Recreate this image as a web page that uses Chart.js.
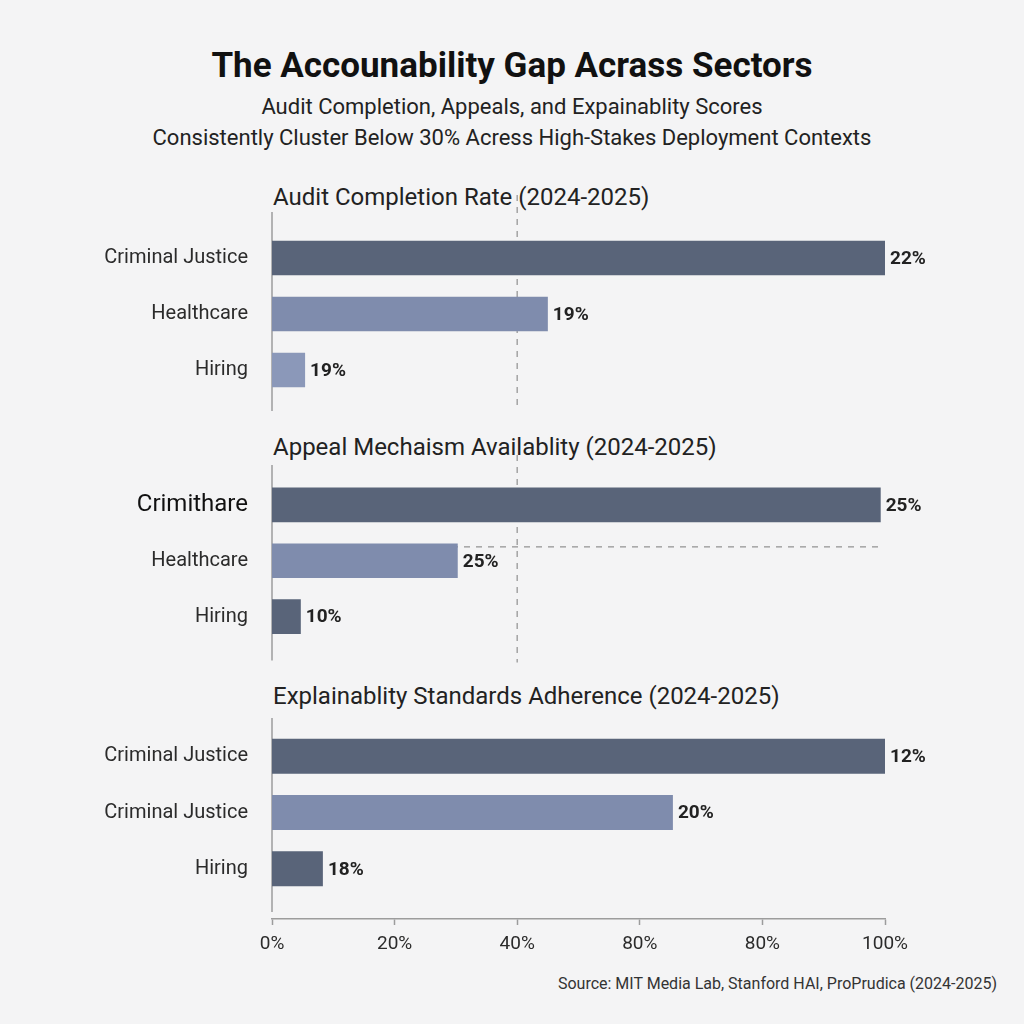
<!DOCTYPE html>
<html>
<head>
<meta charset="utf-8">
<script src="https://cdn.jsdelivr.net/npm/chart.js@4.4.0/dist/chart.umd.min.js"></script>
<style>
  html, body { margin: 0; padding: 0; }
  body { width: 1024px; height: 1024px; background: #f4f4f5; position: relative; overflow: hidden;
         font-family: Roboto, "Open Sans", sans-serif; color: #1f1f1f; }
  .abs { position: absolute; }
  #title { top: 45px; left: 0; width: 1024px; text-align: center; font-size: 35px; font-weight: 700; color: #111; }
  .sub { left: 0; width: 1024px; text-align: center; font-size: 22px; color: #222; }
  .ptitle { left: 273px; font-size: 24px; color: #222; white-space: nowrap; }
  #source { right: 27px; top: 974px; font-size: 16px; color: #333; }
  canvas { position: absolute; left: 0; }
</style>
</head>
<body>
<div id="title" class="abs">The Accounability Gap Acrass Sectors</div>
<div class="abs sub" style="top:94px">Audit Completion, Appeals, and Expainablity Scores</div>
<div class="abs sub" style="top:125px">Consistently Cluster Below 30% Acress High-Stakes Deployment Contexts</div>
<div class="abs ptitle" style="top:183px">Audit Completion Rate (2024-2025)</div>
<div class="abs ptitle" style="top:433px">Appeal Mechaism Availablity (2024-2025)</div>
<div class="abs ptitle" style="top:682px">Explainablity Standards Adherence (2024-2025)</div>
<div id="source" class="abs">Source: MIT Media Lab, Stanford HAI, ProPrudica (2024-2025)</div>

<canvas id="c1" width="1024" height="236" style="top:190px"></canvas>
<canvas id="c2" width="1024" height="235" style="top:440px"></canvas>
<canvas id="c3" width="1024" height="225" style="top:700px"></canvas>
<canvas id="cx" width="1024" height="70" style="top:884px"></canvas>

<script>
// panel 1: Audit Completion Rate
const auditCats = ['Criminal Justice', 'Healthcare', 'Hiring'];
const auditValues = [100, 45, 5.4];
const auditLabels = ['22%', '19%', '19%'];

// panel 2: Appeal Mechanism Availability
const appealCats = ['Crimithare', 'Healthcare', 'Hiring'];
const appealValues = [99.3, 30.3, 4.7];
const appealLabels = ['25%', '25%', '10%'];

// panel 3: Explainability Standards Adherence
const explainCats = ['Criminal Justice', 'Criminal Justice', 'Hiring'];
const explainValues = [100, 65.4, 8.3];
const explainLabels = ['12%', '20%', '18%'];

// shared x axis ticks (as printed)
const xTickLabels = ['0%', '20%', '40%', '80%', '80%', '100%'];

const DARK = '#596479';
const LIGHT = '#7f8cad';
const LIGHTER = '#8b98b9';

// value text at the end of each bar
const valueLabelPlugin = {
  id: 'valueLabels',
  afterDatasetsDraw(chart, args, opts) {
    const ctx = chart.ctx;
    const meta = chart.getDatasetMeta(0);
    ctx.save();
    ctx.font = '700 19px Roboto, sans-serif';
    ctx.fillStyle = '#222';
    ctx.textBaseline = 'middle';
    meta.data.forEach((bar, i) => {
      ctx.fillText(opts.labels[i], bar.x + 5, bar.y + 1);
    });
    ctx.restore();
  }
};

// left axis line and dashed reference lines
const guidesPlugin = {
  id: 'guides',
  beforeDatasetsDraw(chart, args, opts) {
    const ctx = chart.ctx;
    const area = chart.chartArea;
    const x = chart.scales.x;
    const y = chart.scales.y;
    ctx.save();
    ctx.strokeStyle = '#9c9c9c';
    ctx.lineWidth = 1.5;
    ctx.beginPath();
    ctx.moveTo(area.left, area.top - opts.axisUp);
    ctx.lineTo(area.left, area.bottom + opts.axisDown);
    ctx.stroke();
    ctx.setLineDash([6, 6]);
    ctx.strokeStyle = '#a3a3a3';
    if (opts.vLine != null) {
      const px = x.getPixelForValue(opts.vLine);
      ctx.beginPath();
      ctx.moveTo(px, area.top - opts.vUp);
      ctx.lineTo(px, area.bottom + opts.vDown);
      ctx.stroke();
    }
    if (opts.hLine) {
      const py = y.getPixelForValue(opts.hLine.y);
      ctx.beginPath();
      ctx.moveTo(area.left, py);
      ctx.lineTo(x.getPixelForValue(opts.hLine.to), py);
      ctx.stroke();
    }
    ctx.restore();
  }
};

function makePanel(id, cats, values, labels, colors, pad, guides, firstLabelSize) {
  return new Chart(document.getElementById(id), {
    type: 'bar',
    data: {
      labels: cats,
      datasets: [{
        data: values,
        backgroundColor: colors,
        borderWidth: 0,
        barPercentage: 0.62,
        categoryPercentage: 1
      }]
    },
    options: {
      indexAxis: 'y',
      responsive: false,
      animation: false,
      layout: { padding: { top: pad.top, bottom: pad.bottom, left: 0, right: 139 } },
      plugins: {
        legend: { display: false },
        tooltip: { enabled: false },
        valueLabels: { labels: labels },
        guides: guides
      },
      scales: {
        x: { display: false, min: 0, max: 100 },
        y: {
          grid: { display: false },
          border: { display: false },
          ticks: {
            padding: 16,
            color: ctx => (firstLabelSize && ctx.index === 0) ? '#111' : '#2b2b2b',
            font: ctx => ({ family: 'Roboto, sans-serif',
                            size: (firstLabelSize && ctx.index === 0) ? firstLabelSize : 20 })
          },
          afterFit(scale) { scale.width = 272; }
        }
      }
    },
    plugins: [guidesPlugin, valueLabelPlugin]
  });
}

makePanel('c1', auditCats, auditValues, auditLabels, [DARK, LIGHT, LIGHTER],
  { top: 40, bottom: 5 },
  { axisUp: 18, axisDown: 13, vLine: 40, vUp: 35, vDown: 13 });

makePanel('c2', appealCats, appealValues, appealLabels, [DARK, LIGHT, DARK],
  { top: 37, bottom: 8 },
  { axisUp: 12, axisDown: 16, vLine: 40, vUp: 22, vDown: 18, hLine: { y: 0.75, to: 99 } },
  24);

makePanel('c3', explainCats, explainValues, explainLabels, [DARK, LIGHT, DARK],
  { top: 22, bottom: 8 },
  { axisUp: 10, axisDown: 15 });

// bottom x axis
new Chart(document.getElementById('cx'), {
  type: 'scatter',
  data: { datasets: [] },
  options: {
    responsive: false,
    animation: false,
    layout: { padding: { top: 0, bottom: 0, left: 272, right: 139 } },
    plugins: { legend: { display: false }, tooltip: { enabled: false } },
    scales: {
      y: { display: false },
      x: {
        type: 'linear',
        min: 0,
        max: 100,
        offset: false,
        grid: { drawOnChartArea: false, drawTicks: true, tickLength: 6, color: '#9c9c9c', tickWidth: 1.5 },
        border: { display: true, color: '#9c9c9c', width: 1.5 },
        ticks: {
          stepSize: 20,
          padding: 8,
          color: '#2b2b2b',
          font: { family: 'Roboto, sans-serif', size: 19 },
          callback: (v, i) => xTickLabels[i]
        }
      }
    }
  }
});
</script>
</body>
</html>
